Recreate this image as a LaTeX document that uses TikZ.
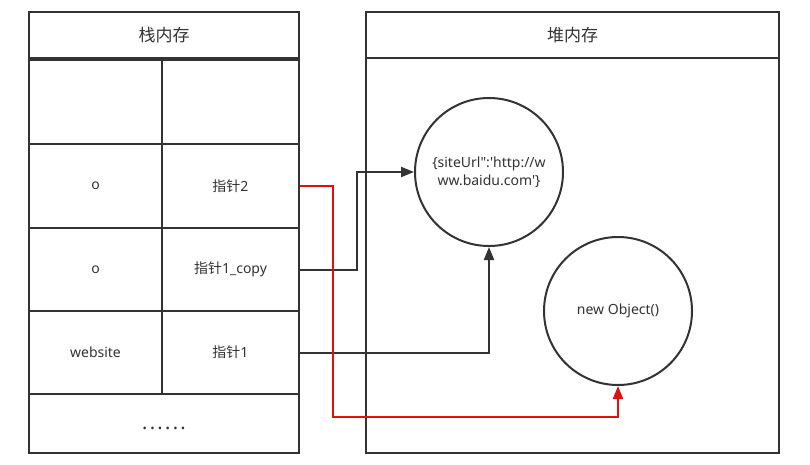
\documentclass[tikz,border=0pt]{standalone}
\usepackage{fontspec}
\newfontfamily\lat{Noto Sans}
\newfontfamily\cjk{Noto Sans CJK SC}
\usetikzlibrary{arrows.meta}
\definecolor{ln}{HTML}{333333}
\definecolor{rd}{HTML}{E01010}
\begin{document}
\begin{tikzpicture}[x=1pt,y=-1pt,
  cell/.style={draw=ln,line width=2pt,rectangle,inner sep=0pt,text=ln,font=\lat\fontsize{14}{16}\selectfont},
  ttl/.style={cell,font=\cjk\fontsize{17}{20}\selectfont},
  obj/.style={draw=ln,line width=2pt,circle,minimum size=148pt,inner sep=0pt,text=ln,align=center,font=\lat\fontsize{14}{18}\selectfont},
  link/.style={draw=ln,line width=2pt,-{Triangle[length=13pt,width=10pt]}},
  redlink/.style={draw=rd,line width=2pt,-{Triangle[length=13pt,width=10pt]}}]
\useasboundingbox (0,0) rectangle (810,464);
\fill[white] (0,0) rectangle (810,464);
% stack
\node[ttl,minimum width=270pt,minimum height=46pt] (st) at (164,35) {栈内存};
\node[cell,minimum width=133pt,minimum height=84pt] (a1) at (95.5,102) {};
\node[cell,minimum width=137pt,minimum height=84pt] (b1) at (230.5,102) {};
\node[cell,minimum width=133pt,minimum height=84pt] (a2) at (95.5,186) {o};
\node[cell,minimum width=137pt,minimum height=84pt] (b2) at (230.5,186) {{\cjk 指针}2};
\node[cell,minimum width=133pt,minimum height=83pt] (a3) at (95.5,269.5) {o};
\node[cell,minimum width=137pt,minimum height=83pt] (b3) at (230.5,269.5) {{\cjk 指针}1\_copy};
\node[cell,minimum width=133pt,minimum height=83pt] (a4) at (95.5,352.5) {website};
\node[cell,minimum width=137pt,minimum height=83pt] (b4) at (230.5,352.5) {{\cjk 指针}1};
\node[cell,minimum width=270pt,minimum height=59pt] (dots) at (164,423.5) {};
\node[text=ln,font=\lat\fontsize{20}{20}\selectfont\bfseries,inner sep=0pt] (dt) at (164,428) {.\kern2.3pt.\kern2.3pt.\kern2.3pt.\kern2.3pt.\kern2.3pt.};
\draw[ln,line width=3.5pt] (29,59) -- (299,59);
% heap
\node[ttl,minimum width=413pt,minimum height=46pt] (hp) at (572.5,35) {堆内存};
\node[cell,minimum width=413pt,minimum height=395pt] (hb) at (572.5,255.5) {};
\node[obj] (o1) at (489,172) {\{siteUrl":'http://w\\ww.baidu.com'\}};
\node[obj] (o2) at (618,311) {new Object()};
% connectors
\coordinate (c1) at (357,268);
\coordinate (r1) at (333,184);
\coordinate (r2) at (618,417);
\draw[link] (b3.east) -- (b3.east -| c1) |- (o1.west);
\draw[link] (b4.east) -| (o1.south);
\draw[redlink] (b2.east) -- (b2.east -| r1) |- (r2) -- (o2.south);
\end{tikzpicture}
\end{document}
